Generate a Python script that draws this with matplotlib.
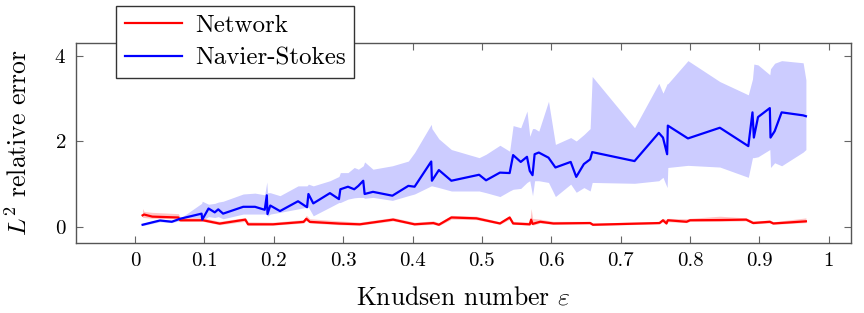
import matplotlib
matplotlib.use("Agg")
import matplotlib.pyplot as plt
import numpy as np

plt.rcParams['font.family'] = ['cmr10', 'DejaVu Serif']
plt.rcParams['mathtext.fontset'] = 'cm'
plt.rcParams['axes.formatter.use_mathtext'] = True

# Navier-Stokes: x, mean, lower, upper
ns_x = [0.011, 0.036, 0.053, 0.065, 0.096, 0.097, 0.106, 0.115, 0.120, 0.127,
        0.156, 0.173, 0.187, 0.190, 0.191, 0.195, 0.209, 0.235, 0.248, 0.250,
        0.257, 0.281, 0.294, 0.296, 0.307, 0.316, 0.322, 0.329, 0.331, 0.343,
        0.371, 0.394, 0.403, 0.427, 0.428, 0.438, 0.456, 0.496, 0.506, 0.526,
        0.540, 0.545, 0.556, 0.565, 0.569, 0.573, 0.576, 0.582, 0.596, 0.606,
        0.628, 0.636, 0.647, 0.656, 0.659, 0.720, 0.755, 0.761, 0.767, 0.768,
        0.797, 0.843, 0.884, 0.890, 0.892, 0.898, 0.915, 0.916, 0.922, 0.932,
        0.963, 0.967]
ns_y = [0.05, 0.15, 0.12, 0.19, 0.31, 0.17, 0.43, 0.34, 0.41, 0.31,
        0.47, 0.47, 0.40, 0.74, 0.30, 0.50, 0.37, 0.60, 0.46, 0.77,
        0.55, 0.79, 0.65, 0.88, 0.94, 0.88, 0.96, 1.08, 0.77, 0.82,
        0.73, 0.96, 0.94, 1.53, 1.08, 1.33, 1.08, 1.22, 1.09, 1.27,
        1.26, 1.68, 1.52, 1.64, 1.31, 1.21, 1.70, 1.74, 1.62, 1.39,
        1.52, 1.17, 1.47, 1.58, 1.75, 1.54, 2.20, 2.09, 1.70, 2.37,
        2.07, 2.32, 1.89, 2.68, 2.09, 2.57, 2.78, 2.09, 2.24, 2.68,
        2.61, 2.59]
ns_lo = [0.03, 0.12, 0.10, 0.15, 0.15, 0.15, 0.24, 0.22, 0.24, 0.19,
         0.30, 0.30, 0.30, 0.30, 0.25, 0.30, 0.34, 0.42, 0.46, 0.46,
         0.26, 0.46, 0.57, 0.57, 0.65, 0.68, 0.69, 0.69, 0.67, 0.69,
         0.62, 0.73, 0.77, 0.96, 0.96, 0.92, 0.84, 0.84, 0.80, 0.71,
         0.84, 0.88, 0.90, 1.04, 1.08, 0.73, 1.08, 1.08, 1.04, 0.71,
         1.00, 0.81, 0.92, 0.84, 1.04, 1.02, 1.08, 1.16, 0.92, 1.39,
         1.44, 1.40, 1.16, 1.62, 1.62, 1.64, 1.81, 1.39, 1.50, 1.43,
         1.75, 1.81]
ns_hi = [0.08, 0.18, 0.16, 0.20, 0.55, 0.60, 0.53, 0.55, 0.58, 0.60,
         0.77, 0.79, 0.75, 1.05, 0.80, 0.80, 0.73, 0.96, 0.96, 1.00,
         0.96, 1.08, 1.18, 1.27, 1.27, 1.39, 1.35, 1.43, 1.52, 1.35,
         1.43, 1.54, 1.74, 2.40, 2.30, 2.06, 1.81, 1.62, 1.70, 1.91,
         1.77, 2.37, 2.32, 2.71, 2.12, 2.30, 2.30, 2.24, 2.94, 1.93,
         2.09, 2.01, 2.16, 2.30, 3.52, 2.32, 3.36, 3.13, 3.35, 3.35,
         3.89, 3.40, 3.09, 3.46, 3.81, 3.79, 3.56, 3.70, 3.83, 3.89,
         3.84, 3.44]

# Network: x, mean, lower, upper
net_x = [0.011, 0.013, 0.025, 0.0625, 0.065, 0.098, 0.122, 0.159, 0.163, 0.199,
         0.243, 0.247, 0.252, 0.295, 0.324, 0.372, 0.403, 0.430, 0.438, 0.456,
         0.492, 0.526, 0.540, 0.545, 0.569, 0.571, 0.573, 0.584, 0.603, 0.656,
         0.660, 0.756, 0.761, 0.766, 0.768, 0.795, 0.800, 0.843, 0.881, 0.891,
         0.915, 0.920, 0.967]
net_y = [0.27, 0.29, 0.24, 0.22, 0.155, 0.155, 0.077, 0.17, 0.06, 0.06,
         0.117, 0.19, 0.117, 0.077, 0.06, 0.17, 0.06, 0.09, 0.05, 0.22,
         0.20, 0.08, 0.22, 0.08, 0.06, 0.17, 0.07, 0.12, 0.08, 0.09,
         0.05, 0.09, 0.155, 0.08, 0.155, 0.12, 0.155, 0.16, 0.17, 0.09,
         0.12, 0.08, 0.13]
net_lo = [0.22, 0.22, 0.20, 0.19, 0.13, 0.13, 0.05, 0.13, 0.04, 0.04,
          0.09, 0.15, 0.09, 0.05, 0.04, 0.14, 0.04, 0.06, 0.03, 0.18,
          0.17, 0.06, 0.18, 0.06, 0.04, 0.10, 0.04, 0.09, 0.06, 0.07,
          0.03, 0.07, 0.12, 0.06, 0.12, 0.10, 0.13, 0.13, 0.14, 0.07,
          0.09, 0.06, 0.10]
net_hi = [0.43, 0.36, 0.34, 0.31, 0.23, 0.21, 0.13, 0.22, 0.12, 0.11,
          0.17, 0.27, 0.19, 0.14, 0.11, 0.22, 0.11, 0.14, 0.10, 0.27,
          0.25, 0.12, 0.26, 0.13, 0.11, 0.43, 0.20, 0.18, 0.13, 0.13,
          0.09, 0.13, 0.20, 0.17, 0.20, 0.19, 0.20, 0.25, 0.21, 0.14,
          0.16, 0.12, 0.21]

xticks = [0, 0.1, 0.2, 0.3, 0.4, 0.5, 0.6, 0.7, 0.8, 0.9, 1]
xticklabels = ["0", "0.1", "0.2", "0.3", "0.4", "0.5", "0.6", "0.7", "0.8", "0.9", "1"]
yticks = [0, 2, 4]

fig = plt.figure(figsize=(8.64, 3.13), dpi=100)
ax = fig.add_axes([76/864, 1 - 242.7/313, (851-76)/864, (242.7-42.7)/313])

ax.fill_between(ns_x, ns_lo, ns_hi, color='#ccccff', linewidth=0, zorder=1)
ax.fill_between(net_x, net_lo, net_hi, color='#ffc4c4', linewidth=0, zorder=1)
ax.plot(net_x, net_y, color='#ff0000', lw=1.6, label='Network', zorder=3)
ax.plot(ns_x, ns_y, color='#0000ff', lw=1.6, label='Navier-Stokes', zorder=3)

ax.set_xlim(-0.085, 1.032)
ax.set_ylim(-0.37, 4.31)
ax.set_xticks(xticks)
ax.set_xticklabels(xticklabels)
ax.set_yticks(yticks)
ax.tick_params(direction='in', top=True, right=True, length=5, width=0.8,
               color='#666666', labelsize=15, pad=7)
for s in ax.spines.values():
    s.set_color('#555555')
    s.set_linewidth(1.0)

ax.set_xlabel(r'Knudsen number $\varepsilon$', fontsize=18.5)
ax.set_ylabel(r'$L^2$ relative error', fontsize=18.5)
ax.xaxis.set_label_coords(0.5, -0.215)
ax.yaxis.set_label_coords(-0.057, 0.5)

leg = fig.legend(loc='upper left', bbox_to_anchor=(116/864, 1 - 5.7/313),
                 fontsize=18, frameon=True, fancybox=False, framealpha=1,
                 edgecolor='#333333', handlelength=2.3, borderpad=0.35,
                 labelspacing=0.4, handletextpad=0.5, borderaxespad=0)
leg.get_frame().set_linewidth(1.0)

fig.savefig('out.png', dpi=100)
